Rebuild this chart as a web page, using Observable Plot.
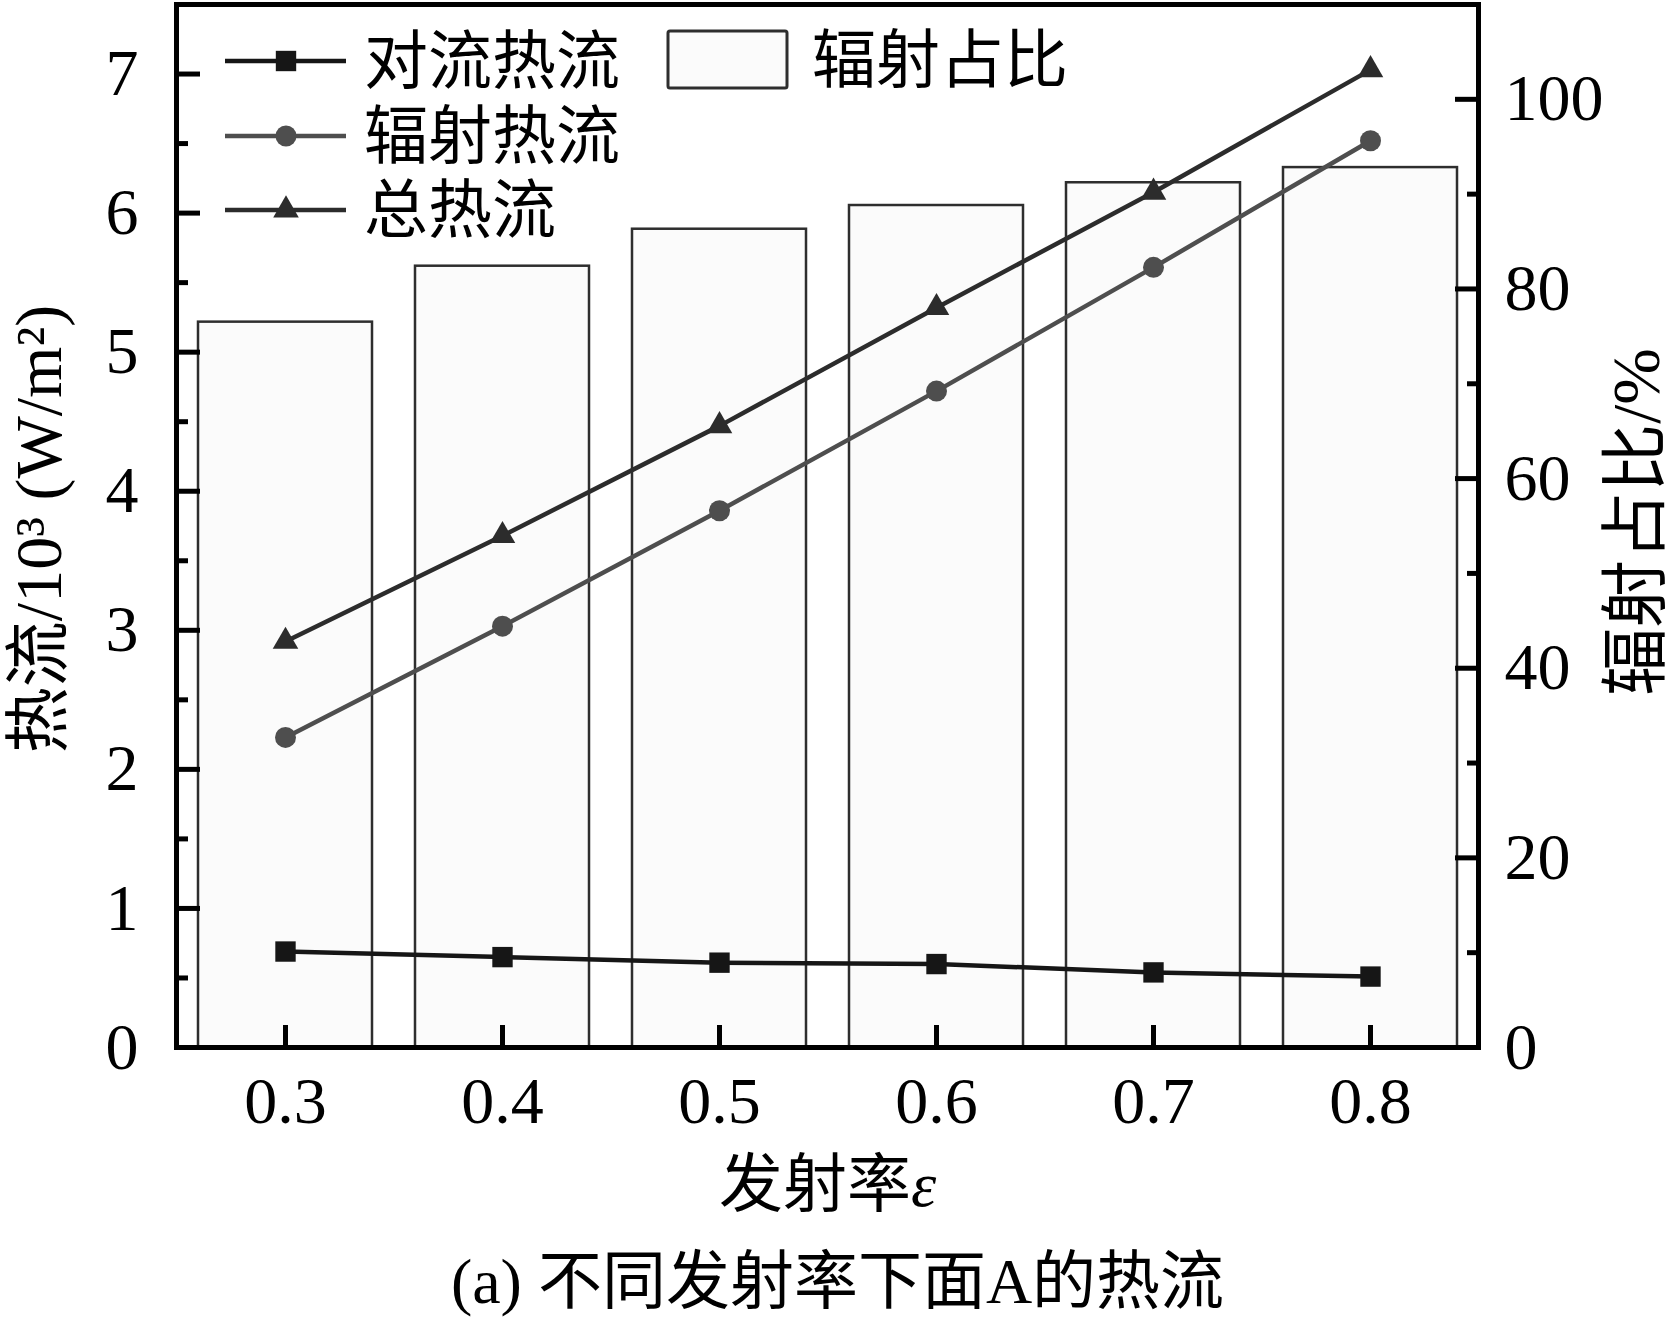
<!DOCTYPE html>
<html>
<head>
<meta charset="utf-8">
<script src="https://cdn.jsdelivr.net/npm/d3@7"></script>
<script src="https://cdn.jsdelivr.net/npm/@observablehq/plot@0.6"></script>
<style>
  html, body { margin: 0; padding: 0; background: #fff; }
  #wrap { position: relative; width: 1675px; }
  #legend { position: absolute; left: 0; top: 0; pointer-events: none; }
  .cap { width: 1675px; height: 81px; line-height: 84px; text-align: center;
         font-family: "Liberation Serif", "Noto Sans CJK SC", serif; font-size: 64px; color: #000;
         padding-left: 0; box-sizing: border-box; }
</style>
</head>
<body>
<div id="wrap">
  <div id="chart"></div>
  <svg id="legend" width="1675" height="260"></svg>
</div>
<div class="cap">(a) 不同发射率下面A的热流</div>
<script>
// ---- data ----
const emissivity = ["0.3", "0.4", "0.5", "0.6", "0.7", "0.8"];
const convective = [0.69, 0.65, 0.61, 0.60, 0.54, 0.51];      // 对流热流 (10^3 W/m2)
const radiative  = [2.23, 3.03, 3.86, 4.72, 5.61, 6.52];      // 辐射热流
const totalFlux  = [2.92, 3.68, 4.47, 5.32, 6.15, 7.03];      // 总热流
const radShare   = [76.5, 82.4, 86.3, 88.8, 91.2, 92.8];      // 辐射占比 (%)
const leftTicks  = [0, 1, 2, 3, 4, 5, 6, 7];
const leftMinor  = [0.5, 1.5, 2.5, 3.5, 4.5, 5.5, 6.5];
const rightTicks = [0, 20, 40, 60, 80, 100];
const rightMinor = [10, 30, 50, 70, 90];
const seriesNames = ["对流热流", "辐射热流", "总热流"];
const barName = "辐射占比";
const yLabel = "热流/10³ (W/m²)";
const y2Label = "辐射占比/%";
const xLabel = "发射率ε";

const Y_MAX = 7.5, R_MAX = 110;
const toLeft = v => v * Y_MAX / R_MAX;

const rows = emissivity.map((e, i) => ({
  e, conv: convective[i], rad: radiative[i], tot: totalFlux[i], share: radShare[i]
}));

const FONT = '"Liberation Serif", "Noto Sans CJK SC", serif';
const cConv = "#161616", cRad = "#4e4e4e", cTot = "#2c2c2c";

const chart = Plot.plot({
  width: 1675,
  height: 1240,
  marginLeft: 176,
  marginRight: 197,
  marginTop: 4,
  marginBottom: 193,
  style: { fontFamily: FONT, fontSize: "66px", color: "#000", background: "#fff", overflow: "visible" },
  x: { type: "band", domain: emissivity, paddingInner: 0.2, paddingOuter: 0.1 },
  y: { domain: [0, Y_MAX] },
  marks: [
    Plot.barY(rows, { x: "e", y: d => toLeft(d.share), fill: "#fbfbfb", stroke: "#2e2e2e", strokeWidth: 2.5 }),
    Plot.line(rows, { x: "e", y: "conv", stroke: cConv, strokeWidth: 4.5 }),
    Plot.line(rows, { x: "e", y: "rad", stroke: cRad, strokeWidth: 4.5 }),
    Plot.line(rows, { x: "e", y: "tot", stroke: cTot, strokeWidth: 4.5 }),
    Plot.dot(rows, { x: "e", y: "conv", symbol: "square", r: 11.5, fill: cConv }),
    Plot.dot(rows, { x: "e", y: "rad", symbol: "circle", r: 10.5, fill: cRad }),
    Plot.dot(rows, { x: "e", y: "tot", symbol: "triangle", r: 9.5, fill: cTot }),
    Plot.frame({ stroke: "#000", strokeWidth: 5 }),
    // left axis
    Plot.axisY(leftTicks, { anchor: "left", tickSize: -24, strokeWidth: 5, tickFormat: () => "", label: null }),
    Plot.axisY(leftMinor, { anchor: "left", tickSize: -12, strokeWidth: 5, tickFormat: () => "", label: null }),
    Plot.axisY(leftTicks, { anchor: "left", tickSize: 0, tickPadding: 38, tickFormat: d => String(d), label: null, fontSize: 66 }),
    // right axis
    Plot.axisY(rightTicks.map(toLeft), { anchor: "right", tickSize: -24, strokeWidth: 5, tickFormat: () => "", label: null }),
    Plot.axisY(rightMinor.map(toLeft), { anchor: "right", tickSize: -12, strokeWidth: 5, tickFormat: () => "", label: null }),
    Plot.axisY(rightTicks.map(toLeft), { anchor: "right", tickSize: 0, tickPadding: 26, tickFormat: d => String(Math.round(d * R_MAX / Y_MAX)), label: null, fontSize: 66 }),
    // x axis
    Plot.axisX(emissivity, { anchor: "bottom", tickSize: -22, strokeWidth: 5, tickFormat: () => "", label: null }),
    Plot.axisX(emissivity, { anchor: "bottom", tickSize: 0, tickPadding: 29, label: null, fontSize: 66 }),
    // titles
    Plot.text([yLabel], { text: d => d, frameAnchor: "left", textAnchor: "middle", lineAnchor: "middle", rotate: -90, dx: -137, dy: 3, fontSize: 66 }),
    Plot.text([y2Label], { text: d => d, frameAnchor: "right", textAnchor: "middle", lineAnchor: "middle", rotate: -90, dx: 159, dy: -4, fontSize: 68 }),
    Plot.text([xLabel], { text: d => d, frameAnchor: "bottom", textAnchor: "middle", lineAnchor: "middle", dy: 138, fontSize: 64 })
  ]
});
document.getElementById("chart").appendChild(chart);

// italic epsilon in x label
chart.querySelectorAll("text").forEach(t => {
  if (t.textContent === xLabel) {
    t.textContent = xLabel.slice(0, -1);
    const ts = document.createElementNS("http://www.w3.org/2000/svg", "tspan");
    ts.setAttribute("font-style", "italic");
    ts.textContent = xLabel.slice(-1);
    t.appendChild(ts);
  }
});

// legend
const lg = d3.select("#legend");
const rowsY = [61, 136, 210];
const colors = [cConv, cRad, cTot];
const symbols = [d3.symbolSquare, d3.symbolCircle, d3.symbolTriangle];
const rs = [11.5, 10.5, 9.5];
seriesNames.forEach((name, i) => {
  const y = rowsY[i];
  lg.append("line").attr("x1", 225).attr("x2", 346).attr("y1", y).attr("y2", y)
    .attr("stroke", colors[i]).attr("stroke-width", 4.5);
  lg.append("path").attr("d", d3.symbol(symbols[i], Math.PI * rs[i] * rs[i])())
    .attr("transform", `translate(286,${y})`).attr("fill", colors[i]);
  lg.append("text").attr("x", 364).attr("y", y).attr("dominant-baseline", "central")
    .attr("font-family", FONT).attr("font-size", 64).attr("fill", "#000").text(name);
});
lg.append("rect").attr("x", 668).attr("y", 31).attr("width", 119).attr("height", 57).attr("rx", 2)
  .attr("fill", "#fbfbfb").attr("stroke", "#2e2e2e").attr("stroke-width", 3);
lg.append("text").attr("x", 812).attr("y", 60).attr("dominant-baseline", "central")
  .attr("font-family", FONT).attr("font-size", 64).attr("fill", "#000").text(barName);
</script>
</body>
</html>
